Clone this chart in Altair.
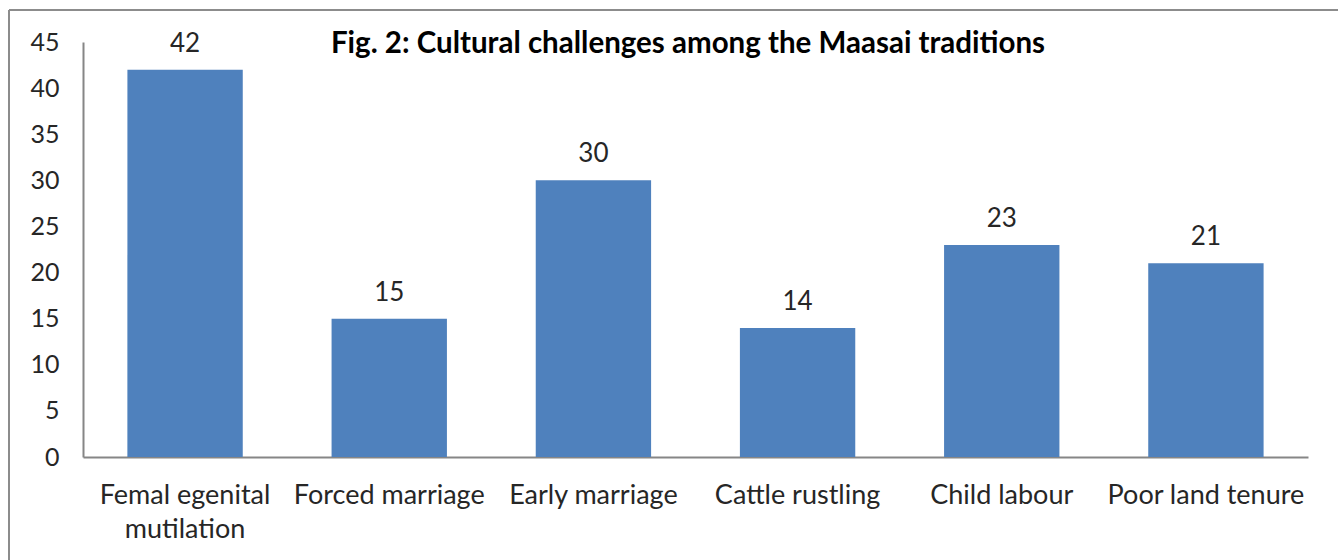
import altair as alt
import pandas as pd

categories = ["Femal egenital mutilation", "Forced marriage", "Early marriage",
              "Cattle rustling", "Child labour", "Poor land tenure"]
values = [42, 15, 30, 14, 23, 21]
y_ticks = [0, 5, 10, 15, 20, 25, 30, 35, 40, 45]
title_text = "Fig. 2: Cultural challenges among the Maasai traditions"

df = pd.DataFrame({"category": categories, "value": values})

FONT = "Lato"
W, H = 1225, 415

x_enc = alt.X("category:N", sort=categories,
              scale=alt.Scale(paddingInner=0.435, paddingOuter=0.2175),
              axis=alt.Axis(title=None, labelAngle=0, labelFontSize=27, labelFont=FONT,
                            labelColor="#262626", ticks=False, domainColor="#868686",
                            domainWidth=2, labelPadding=25, labelLineHeight=34,
                            labelLimit=500, labelOverlap=False,
                            labelExpr="datum.value == 'Femal egenital mutilation' ? ['Femal egenital', 'mutilation'] : datum.value"))
y_enc = alt.Y("value:Q", scale=alt.Scale(domain=[0, 45], nice=False),
              axis=alt.Axis(title=None, values=y_ticks, grid=False, ticks=False,
                            labelFontSize=25, labelFont=FONT, labelColor="#262626",
                            domainColor="#868686", domainWidth=2, labelPadding=24))

base = alt.Chart(df)
bars = base.mark_bar(color="#4F81BD").encode(x=x_enc, y=y_enc)
labels = base.mark_text(baseline="bottom", dy=-13, fontSize=26, font=FONT,
                        color="#262626").encode(
    x=alt.X("category:N", sort=categories), y="value:Q", text="value:Q")

title = alt.Chart(pd.DataFrame({"t": [title_text]})).mark_text(
    fontSize=29.5, font=FONT, fontWeight="bold", color="#000000", baseline="middle"
).encode(x=alt.value(605), y=alt.value(2), text="t:N")

border_top = alt.Chart(pd.DataFrame({"a": [0]})).mark_rule(color="#8c8c8c", strokeWidth=2).encode(
    x=alt.value(-74), x2=alt.value(1270), y=alt.value(-32))
border_left = alt.Chart(pd.DataFrame({"a": [0]})).mark_rule(color="#8c8c8c", strokeWidth=2).encode(
    x=alt.value(-74), y=alt.value(-32), y2=alt.value(540))

chart = alt.layer(border_top, border_left, bars, labels, title).properties(
    width=W, height=H,
    padding={"left": 83, "top": 42, "right": 30, "bottom": 103},
    autosize=alt.AutoSizeParams(type="none"),
    background="white"
).configure_view(stroke=None)

chart.save("out.html", embed_options={"renderer": "svg", "actions": False})
